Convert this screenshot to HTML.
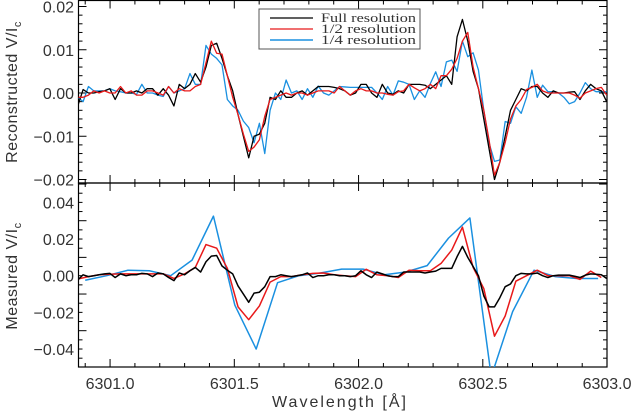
<!DOCTYPE html>
<html><head><meta charset="utf-8"><style>
body{margin:0;background:#fff;}
svg{display:block;font-family:"Liberation Sans",sans-serif;}
</style></head><body>
<svg id="chart" width="632" height="413" viewBox="0 0 632 413" xmlns="http://www.w3.org/2000/svg">
<defs>
<clipPath id="clipTop"><rect x="78.5" y="0" width="528.5" height="183"/></clipPath>
<clipPath id="clipBot"><rect x="78.5" y="183" width="528.5" height="184"/></clipPath>
</defs>
<g id="axes"></g>
<g id="series"></g>
<g>
<rect x="259" y="9" width="161" height="40" fill="#fff" stroke="#555" stroke-width="1"/>
<line x1="270" y1="18" x2="313" y2="18" stroke="#000" stroke-width="1.2"/>
<line x1="270" y1="29" x2="313" y2="29" stroke="#e8191a" stroke-width="1.2"/>
<line x1="270" y1="40" x2="313" y2="40" stroke="#1a90e0" stroke-width="1.5"/>
<text x="321" y="22" font-family="Liberation Serif,serif" font-size="13" textLength="95" lengthAdjust="spacingAndGlyphs" fill="#333">Full resolution</text>
<text x="321" y="33" font-family="Liberation Serif,serif" font-size="13" textLength="95" lengthAdjust="spacingAndGlyphs" fill="#333">1/2 resolution</text>
<text x="321" y="44" font-family="Liberation Serif,serif" font-size="13" textLength="95" lengthAdjust="spacingAndGlyphs" fill="#333">1/4 resolution</text>
</g>
</svg>
<script>
// wavelength grids
const fullStart = 6300.87, fullStep = 0.0215;
const halfStart = 6300.87, halfStep = 0.043;
const quarterStart = 6300.90, quarterStep = 0.086;
// top panel: reconstructed V/Ic (units 1e-3)
const topFull = [-3,0.8,0,0,0.3,0.5,1,-1.5,1,0,0,0.5,0,1,1,-0.5,1,-0.5,-3,2,1,2,4.5,2.5,6,11,11.5,8,4,0.5,-5,-10,-15,-10,-9.5,-7,-1,-1.5,0.5,-1,-1,0,0.5,-0.5,0.5,1.5,1.5,1.5,1.3,1,0.5,-0.5,0,2,2,0,-1,2,0,-0.3,0.5,0,2,2,2,1.8,1,2,3,4,2,13,17,12,5,1,-6,-13,-20,-16,-10,-4,-1.5,1,0.5,1.5,1.5,0,-1,0.5,0,0,0.2,0.3,-1.5,0.5,2,1,0.5,-2];
const topHalf = [-1,-1,-0.5,0.5,0,0.5,0,0,1.5,0,0.5,-0.5,-0.5,0.5,0.5,0,-0.5,1.5,0,1,0.5,0.5,1.5,2,7,12,9.2,9,4,-1,-5,-9.5,-13.5,-12.5,-10.8,-5.4,-1.5,-1,-0.5,0,-0.5,0,0,-0.5,0,0.5,0.5,0.5,0,1.5,0.5,-0.5,0.5,1,0.5,0.5,0,0,-0.3,-0.5,0.3,0.5,2,1.2,0.5,1,2,1,4,4,5.5,8,12,14,6,1,-4,-11,-19,-16,-11.5,-6,-3,-1.5,0.8,1.3,2,0.5,0,0,0,0,0,-0.5,-1.2,0,0.5,1,1.3,-0.5];
const topQuarter = [-1,-2,1.5,0.5,0.5,0.5,1,0.5,0.3,0,0,-0.3,2,0,0,-0.5,-0.8,1.5,0,0.5,1,4.5,2,2,11,9,8,6.5,-1.5,-3,-4,-6.5,-8,-11.5,-7,-14,-4,0,-1.5,3,0,0.5,-1.5,1,-1,1.6,0,-0.5,0.5,1.5,1.4,1.3,1.3,1.3,1.3,1.3,0,-1.5,1.5,-0.5,2.8,2.5,2,-1.5,0.5,-1,2.2,4.9,1.5,7.2,7.6,5,12,8.4,9.3,5.3,-4,-11.6,-15.8,-15.5,-6.6,-7,-3.2,-4.7,-1,5.3,-1,1.8,0.3,0.3,0,-1,-2.5,-2,0,2.4,1,0.3,0.3,0.3];
// bottom panel: measured V/Ic (units 1e-3)
const botFull = [-2.4,0.5,-0.5,0,0.5,1,1.3,-1,1,0,0.5,0.5,1.3,1,-0.5,1.5,1,-1,-2.7,1.5,0.5,2.7,4.5,2,7.6,10.7,11,5.3,3,1,-5.6,-10,-14.5,-9.5,-9,-6,-0.5,-0.5,0.5,0,-0.5,0,0.5,1.5,-1,0,0,0.5,0.5,0,0,-0.5,0,2.7,0.5,-1,2,1,0,-0.5,-0.5,2,2,2,2,1.5,2,2.5,4,4,4,10.4,16,10,5,0,-11,-17,-17,-12,-6,-4.5,0,1.3,1,1,1.5,0,-1,0,0.3,0.3,0.3,-0.3,-1,0.3,1,0.8,0.5,-1.5];
const botHalf = [-1.8,-0.5,0.5,0.8,1,1,1,1,1,-1.5,1,4.5,17,15,4,-17,-24,-16.5,-3.5,-0.5,-0.5,0.5,1.3,1.5,0.5,0,-0.5,3.5,0.5,0,-1,3,2.7,2.7,6.7,14,26.5,4.5,-7,-33,-22,-3,0,3,0,0,0,-2,2.5,-1];
const botQuarter = [-2.5,0,3,2.7,0,8.5,32.5,-16,-40,-3.8,0,1.5,3.6,3.6,0.5,2,5.5,20.5,31.5,-55,-19.6,3,-0.5,-1.5,-1.5];
// axis ticks
const xTicks = [6301.0,6301.5,6302.0,6302.5,6303.0];
const xTickLabels = ["6301.0","6301.5","6302.0","6302.5","6303.0"];
const topYTicks = [0.02,0.01,0,-0.01,-0.02];
const topYLabels = ["0.02","0.01","0.00","\u22120.01","\u22120.02"];
const botYTicks = [0.04,0.02,0,-0.02,-0.04];
const botYLabels = ["0.04","0.02","0.00","\u22120.02","\u22120.04"];

const NS="http://www.w3.org/2000/svg";
const L=78.5,R=607,TT=0.5,TB=183,BT=183,BB=367;
const X=w=>78.5+(w-6300.873)*248.5;
const YT=v=>93-v*4325;
const YB=v=>275.7-v*1833;
const axes=document.getElementById('axes'), ser=document.getElementById('series');
function mk(tag,attrs,parent){const e=document.createElementNS(NS,tag);for(const k in attrs)e.setAttribute(k,attrs[k]);parent.appendChild(e);return e;}

const f1=mk('rect',{x:L,y:TT,width:R-L,height:TB-TT,fill:'none',stroke:'#000','stroke-width':1.2},axes);


const f2=mk('rect',{x:L,y:BT,width:R-L,height:BB-BT,fill:'none',stroke:'#000','stroke-width':1.2},axes);



for(let m=0;m<=21;m++){
  const w=6300.9+m*0.1; const x=X(w); if(x<L||x>R)continue;
  const major=Math.abs((w*2)-Math.round(w*2))<1e-6; const len=major?8:4;
  for(const [y0,d] of [[TT,1],[TB,-1],[BT,1],[BB,-1]]){
    const t=mk('line',{x1:x,x2:x,y1:y0,y2:y0+d*len,stroke:'#000','stroke-width':1},axes);
    
    
  }
}
xTicks.forEach((w,i)=>{
  const t=mk('text',{x:X(w),y:389,'text-anchor':'middle','font-size':16,fill:'#333'},axes);
  t.textContent=xTickLabels[i];
  
  
});
function yTicks(Y,lo,hi,step,majEvery,top,bot){
  const n=Math.round((hi-lo)/step);
  for(let k=0;k<=n;k++){
    const v=lo+k*step; const y=Y(v); if(y<top-0.1||y>bot+0.1)continue;
    const major=k%majEvery===0; const len=major?8:4;
    for(const [x0,d] of [[L,1],[R,-1]]){
      const t=mk('line',{x1:x0,x2:x0+d*len,y1:y,y2:y,stroke:'#000','stroke-width':1},axes);
      
      
    }
  }
}
yTicks(YT,-0.02,0.02,0.002,5,TT,TB);
yTicks(YB,-0.05,0.05,0.005,4,BT,BB);
topYTicks.forEach((v,i)=>{
  const t=mk('text',{x:74,y:YT(v)+6,'text-anchor':'end','font-size':16,fill:'#333'},axes);
  t.textContent=topYLabels[i];
  
  
});
botYTicks.forEach((v,i)=>{
  const t=mk('text',{x:74,y:YB(v)+6,'text-anchor':'end','font-size':16,fill:'#333'},axes);
  t.textContent=botYLabels[i];
  
  
});
const xt=mk('text',{x:340,y:407,'text-anchor':'middle','font-size':16,fill:'#333','letter-spacing':'2'},axes);
xt.textContent='Wavelength [Å]';


function ytitle(cy,label,name){
  const t=mk('text',{x:0,y:0,'text-anchor':'middle','font-size':16,fill:'#333',transform:`translate(17,${cy}) rotate(-90)`,'letter-spacing':'0.5'},axes);
  t.textContent=label;
  const s=mk('tspan',{'font-size':11,dy:4},t); s.textContent='c';
  
  
}
ytitle(92,'Reconstructed V/I','top-y-axis-title');
ytitle(276,'Measured V/I','bottom-y-axis-title');

function line(vals,start,step,Y,color,width,clip,name){
  const pts=vals.map((v,i)=>X(start+i*step).toFixed(2)+','+Y(v/1000).toFixed(2)).join(' ');
  const p=mk('polyline',{points:pts,fill:'none',stroke:color,'stroke-width':width,'stroke-linejoin':'round','clip-path':`url(#${clip})`},ser);
  
  
}
const BLK='#000',RED='#e8191a',BLU='#1a90e0';
line(topQuarter,fullStart,fullStep,YT,BLU,1.3,'clipTop','top-quarter-resolution-line');
line(topFull,fullStart,fullStep,YT,BLK,1.3,'clipTop','top-full-resolution-line');
line(topHalf,fullStart,fullStep,YT,RED,1.3,'clipTop','top-half-resolution-line');
line(botQuarter,quarterStart,quarterStep,YB,BLU,1.5,'clipBot','bottom-quarter-resolution-line');
line(botHalf,halfStart,halfStep,YB,RED,1.5,'clipBot','bottom-half-resolution-line');
line(botFull,fullStart,fullStep,YB,BLK,1.5,'clipBot','bottom-full-resolution-line');
</script>
</body></html>
